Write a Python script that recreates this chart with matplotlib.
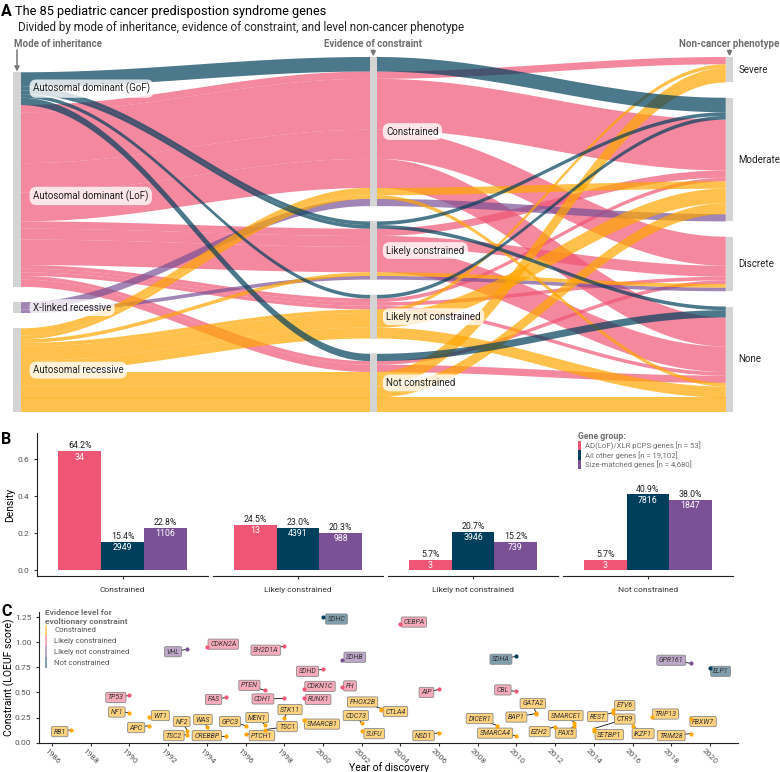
import numpy as np
import matplotlib
matplotlib.use("Agg")
import matplotlib.pyplot as plt
from matplotlib.patches import Rectangle, Patch, Polygon
from matplotlib import colors as mcolors

plt.rcParams['font.family'] = ['Roboto', 'DejaVu Sans']

W, H = 780, 772
NAVY, PURPLE, PINK, ORANGE = "#003f5c", "#7a5195", "#ef5675", "#ffa600"
GREY_TXT = "#6e6e6e"

# ---------------- panel A data (alluvium: mode -> constraint -> phenotype) ----------------
MODES = ["Autosomal dominant (GoF)", "Autosomal dominant (LoF)", "X-linked recessive", "Autosomal recessive"]
CONSTR = ["Constrained", "Likely constrained", "Likely not constrained", "Not constrained"]
PHENO = ["Severe", "Moderate", "Discrete", "None"]

flow_mode = ["Autosomal dominant (GoF)"] * 5 + ["Autosomal dominant (LoF)"] * 12 + \
            ["X-linked recessive"] * 2 + ["Autosomal recessive"] * 9
flow_constr = ["Constrained", "Likely constrained", "Likely constrained", "Likely not constrained", "Not constrained",
               "Constrained", "Constrained", "Constrained", "Constrained",
               "Likely constrained", "Likely constrained", "Likely constrained",
               "Likely not constrained", "Likely not constrained", "Likely not constrained",
               "Not constrained", "Not constrained",
               "Constrained", "Likely constrained",
               "Constrained", "Constrained", "Likely constrained",
               "Likely not constrained", "Likely not constrained", "Likely not constrained",
               "Not constrained", "Not constrained", "Not constrained"]
flow_pheno = ["Moderate", "Moderate", "None", "Moderate", "None",
              "Severe", "Moderate", "Discrete", "None",
              "Moderate", "Discrete", "None",
              "Moderate", "Discrete", "None",
              "Discrete", "None",
              "Moderate", "Discrete",
              "Moderate", "None", "Discrete",
              "Severe", "Moderate", "None",
              "Severe", "Moderate", "None"]
flow_n = [4, 1, 1, 1, 2,
          2, 14, 8, 8,
          2, 3, 7,
          1, 1, 1,
          1, 2,
          2, 1,
          2, 1, 1,
          1, 4, 3,
          4, 3, 4]

# ---------------- panel B data ----------------
groups = ["Constrained", "Likely constrained", "Likely not constrained", "Not constrained"]
pcps_dens = [0.642, 0.245, 0.057, 0.057]
other_dens = [0.154, 0.230, 0.207, 0.409]
size_dens = [0.228, 0.203, 0.152, 0.380]
pcps_n = [34, 13, 3, 3]
other_n = [2949, 4391, 3946, 7816]
size_n = [1106, 988, 739, 1847]
series_labels = ["AD(LoF)/XLR pCPS genes [n = 53]", "All other genes [n = 19,102]",
                 "Size-matched genes [n = 4,680]"]

# ---------------- panel C data ----------------
genes = ["RB1", "TP53", "NF1", "APC", "WT1", "NF2", "TSC2", "VHL", "CDKN2A", "FAS", "WAS", "CREBBP",
         "GPC3", "PTCH1", "MEN1", "PTEN", "CDH1", "SH2D1A", "TSC1", "STK11", "SMARCB1", "SDHC", "SDHD",
         "CDKN1C", "RUNX1", "SDHB", "FH", "PHOX2B", "CTLA4", "CDC73", "SUFU", "CEBPA", "AIP", "NSD1",
         "DICER1", "SMARCA4", "SDHA", "CBL", "GATA2", "BAP1", "EZH2", "SMARCE1", "PAX5", "REST", "ETV6",
         "CTR9", "SETBP1", "IKZF1", "TRIP13", "TRIM28", "FBXW7", "GPR161", "ELP1"]
year = [1987, 1990, 1990, 1991, 1991, 1993, 1993, 1993, 1994, 1995, 1994, 1995,
        1996, 1996, 1997, 1997, 1998, 1998, 1997, 1998, 1999, 2000, 2000,
        1999, 1999, 2001, 2001, 2003, 2003, 2002, 2002, 2004, 2006, 2006,
        2009, 2010, 2010, 2010, 2011, 2011, 2012, 2013, 2013, 2015, 2015,
        2014, 2014, 2016, 2017, 2019, 2019, 2019, 2020]
loeuf = [0.13, 0.47, 0.30, 0.17, 0.255, 0.12, 0.08, 0.93, 0.95, 0.45, 0.16, 0.07,
         0.17, 0.09, 0.18, 0.52, 0.44, 0.96, 0.13, 0.25, 0.23, 1.25, 0.73,
         0.53, 0.44, 0.82, 0.55, 0.34, 0.33, 0.195, 0.12, 1.18, 0.53, 0.10,
         0.17, 0.07, 0.86, 0.51, 0.30, 0.29, 0.16, 0.20, 0.17, 0.30, 0.33,
         0.14, 0.12, 0.17, 0.26, 0.09, 0.24, 0.79, 0.74]
level = ["C", "LC", "C", "C", "C", "C", "C", "LNC", "LC", "LC", "C", "C",
         "C", "C", "C", "LC", "LC", "LC", "C", "C", "C", "NC", "LC",
         "LC", "LC", "LNC", "LC", "C", "C", "C", "C", "LC", "LC", "C",
         "C", "C", "NC", "LC", "C", "C", "C", "C", "C", "C", "C",
         "C", "C", "C", "C", "C", "C", "LNC", "NC"]
# repelled label placement (year, LOEUF)
label_x = [1986.4, 1989.3, 1989.35, 1990.35, 1991.6, 1992.7, 1992.3, 1992.25, 1994.85, 1994.35, 1993.8, 1994.0,
           1995.2, 1996.85, 1996.6, 1996.2, 1996.9, 1997.05, 1998.15, 1998.3, 1999.95, 2000.7, 1999.2,
           1999.85, 1999.75, 2001.65, 2001.4, 2002.05, 2003.75, 2001.7, 2002.65, 2004.7, 2005.35, 2005.2,
           2008.1, 2008.9, 2009.2, 2009.3, 2010.85, 2010.0, 2011.2, 2012.55, 2012.55, 2014.2, 2015.6,
           2015.6, 2014.8, 2016.55, 2017.7, 2018.0, 2019.65, 2018.0, 2020.55]
label_y = [0.11, 0.45, 0.305, 0.15, 0.27, 0.21, 0.07, 0.905, 0.98, 0.43, 0.23, 0.07,
           0.21, 0.07, 0.25, 0.57, 0.435, 0.92, 0.16, 0.33, 0.185, 1.23, 0.71,
           0.56, 0.43, 0.85, 0.565, 0.405, 0.31, 0.27, 0.09, 1.2, 0.50, 0.07,
           0.24, 0.095, 0.83, 0.525, 0.39, 0.255, 0.11, 0.27, 0.095, 0.26, 0.37,
           0.235, 0.08, 0.09, 0.285, 0.07, 0.21, 0.82, 0.71]
level_names = {"C": "Constrained", "LC": "Likely constrained",
               "LNC": "Likely not constrained", "NC": "Not constrained"}
level_col = {"C": ORANGE, "LC": PINK, "LNC": PURPLE, "NC": NAVY}


def light(c, a=0.5):
    r = np.array(mcolors.to_rgb(c))
    return tuple(a * r + (1 - a))


fig = plt.figure(figsize=(W / 100, H / 100), dpi=100)


def px_axes(l, t, r, b):
    return fig.add_axes([l / W, 1 - b / H, (r - l) / W, (b - t) / H])


fig.text(1 / W, 1 - 12 / H, "A", fontsize=11.5, fontweight="bold", va="center")
fig.text(1 / W, 1 - 440 / H, "B", fontsize=11.5, fontweight="bold", va="center")
fig.text(1 / W, 1 - 611 / H, "C", fontsize=11.5, fontweight="bold", va="center")
fig.text(15 / W, 1 - 11 / H, "The 85 pediatric cancer predispostion syndrome genes", fontsize=9.2, va="center")
fig.text(18 / W, 1 - 28 / H,
         "Divided by mode of inheritance, evidence of constraint, and level non-cancer phenotype",
         fontsize=8.4, va="center", color="#222")

# ================= Panel A =================
axA = px_axes(0, 57, 780, 412)
PXX = 356.25
GAP = 4.2
axA.set_xlim(1 - 17 / PXX, 1 + 763 / PXX)
axA.set_ylim(0, 85 + 3 * GAP)
axA.axis("off")
BW = 7.5 / PXX
nflow = len(flow_n)
mode_col = {MODES[0]: NAVY, MODES[1]: PINK, MODES[2]: PURPLE, MODES[3]: ORANGE}
mid_mode_order = [MODES[0], MODES[1], MODES[3], MODES[2]]


def strata(levels, key, gaps):
    tot = {l: sum(n for k, n in zip(key, flow_n) if k == l) for l in levels}
    pos, y = {}, 0.0
    for i in range(len(levels) - 1, -1, -1):
        pos[levels[i]] = (y, y + tot[levels[i]])
        y += tot[levels[i]]
        if i > 0:
            y += gaps[i - 1]
    return pos


def lodes(pos, key, order):
    out = {}
    for lvl, (b, t) in pos.items():
        idx = sorted([i for i in range(nflow) if key[i] == lvl], key=order)
        y = t
        for i in idx:
            out[i] = (y - flow_n[i], y)
            y -= flow_n[i]
    return out


posL = strata(MODES, flow_mode, [0, GAP, GAP])
posM = strata(CONSTR, flow_constr, [GAP, GAP, GAP])
posR = strata(PHENO, flow_pheno, [GAP, GAP, GAP])
lodL = lodes(posL, flow_mode, lambda i: (CONSTR.index(flow_constr[i]), PHENO.index(flow_pheno[i])))
lodM = lodes(posM, flow_constr, lambda i: (mid_mode_order.index(flow_mode[i]), PHENO.index(flow_pheno[i])))
lodR = lodes(posR, flow_pheno, lambda i: (mid_mode_order.index(flow_mode[i]), CONSTR.index(flow_constr[i])))


def curve(x0, x1, y0, y1, n=60):
    t = np.linspace(0, 1, n)
    s = (1 - np.cos(np.pi * t)) / 2
    return x0 + (x1 - x0) * t, y0 + (y1 - y0) * s


draw_order = [MODES[1], MODES[2], MODES[3], MODES[0]]
for m in draw_order:
    for i in range(nflow):
        if flow_mode[i] != m:
            continue
        (b1, t1), (b2, t2), (b3, t3) = lodL[i], lodM[i], lodR[i]
        xa, ya = curve(1 + BW / 2, 2 - BW / 2, t1, t2)
        xb, yb = curve(2 + BW / 2, 3 - BW / 2, t2, t3)
        xc, yc = curve(2 + BW / 2, 3 - BW / 2, b2, b3)
        xd, yd = curve(1 + BW / 2, 2 - BW / 2, b1, b2)
        xs = np.concatenate([xa, xb, xc[::-1], xd[::-1]])
        ys = np.concatenate([ya, yb, yc[::-1], yd[::-1]])
        axA.add_patch(Polygon(np.column_stack([xs, ys]), closed=True, fc=mode_col[m],
                              alpha=0.7, ec="none", zorder=1))

for xi, pos in ((1, posL), (2, posM), (3, posR)):
    for lvl, (b, t) in pos.items():
        axA.add_patch(Rectangle((xi - BW / 2, b), BW, t - b, fc="#d4d4d4", ec="none", zorder=3))

lab_box = dict(boxstyle="round,pad=0.35,rounding_size=0.7", fc=(1, 1, 1, 0.78), ec="none")
for lvl, (b, t) in posL.items():
    axA.text(1 + 16 / PXX, (b + t) / 2, lvl, fontsize=7, va="center", ha="left",
             color="#222", bbox=lab_box, zorder=5)
for lvl, (b, t) in posM.items():
    axA.text(2 + 13 / PXX, (b + t) / 2, lvl, fontsize=7, va="center", ha="left",
             color="#222", bbox=lab_box, zorder=5)
for lvl, (b, t) in posR.items():
    axA.text(3 + 9 / PXX, (b + t) / 2, lvl, fontsize=7, va="center", ha="left", color="#222", zorder=5)

ytitle = 368 / 3.637
ytail = 362 / 3.637
for xi, name, ha, pos in ((1, "Mode of inheritance", "left", posL),
                          (2, "Evidence of constraint", "center", posM),
                          (3, "Non-cancer phenotype", "center", posR)):
    tx = xi - 3 / PXX if ha == "left" else xi
    axA.text(tx, ytitle, name, fontsize=7, fontweight="bold", color=GREY_TXT, ha=ha,
             va="center", clip_on=False)
    top = max(t for b, t in pos.values())
    axA.annotate("", xy=(xi, top + 0.2), xytext=(xi, ytail), annotation_clip=False,
                 arrowprops=dict(arrowstyle="-|>", color="#777", lw=1.1, mutation_scale=7,
                                 shrinkA=0, shrinkB=0))

# ================= Panel B =================
facets = [(37, 208), (213, 383), (388, 558), (563, 733)]
bar_cols = [PINK, NAVY, PURPLE]
for k, (l, r) in enumerate(facets):
    ax = px_axes(l, 433, r, 576)
    ax.set_xlim(0.4, 1.6)
    ax.set_ylim(-0.03, 0.74)
    vals = [pcps_dens[k], other_dens[k], size_dens[k]]
    ns = [pcps_n[k], other_n[k], size_n[k]]
    for j, (v, n, c) in enumerate(zip(vals, ns, bar_cols)):
        xj = 0.7 + 0.3 * j
        ax.bar(xj, v, width=0.3, color=c, edgecolor="none")
        ax.text(xj, v + 0.004, f"{v * 100:.1f}%", ha="center", va="bottom", fontsize=6.3, color="#222")
        ax.text(xj, v - 0.007, f"{n}", ha="center", va="top", fontsize=6.3, color="white")
    for s in ("top", "right"):
        ax.spines[s].set_visible(False)
    ax.spines["bottom"].set_color("#222")
    ax.spines["bottom"].set_linewidth(0.8)
    ax.set_xticks([1.0])
    ax.set_xticklabels([groups[k]], fontsize=6, color="#333")
    ax.tick_params(axis="x", length=2, color="#333", pad=6)
    if k == 0:
        ax.spines["left"].set_color("#222")
        ax.spines["left"].set_linewidth(0.8)
        ax.set_yticks([0, 0.2, 0.4, 0.6])
        ax.set_yticklabels(["0.0", "0.2", "0.4", "0.6"], fontsize=6, color="#555")
        ax.tick_params(axis="y", length=2, color="#333")
        ax.set_ylabel("Density", fontsize=7.5)
        ax.yaxis.set_label_coords(-0.125, 0.5)
    else:
        ax.spines["left"].set_visible(False)
        ax.set_yticks([])

legB = fig.legend(handles=[Patch(fc=c, ec="none") for c in bar_cols], labels=series_labels,
                  loc="upper left", bbox_to_anchor=(578 / W, 1 - 432 / H), frameon=False,
                  fontsize=5.6, title="Gene group:", title_fontproperties={"weight": "bold", "size": 6.3},
                  handlelength=0.4, handleheight=1.5, labelspacing=0, handletextpad=0.5,
                  borderaxespad=0, borderpad=0)
legB._legend_box.align = "left"
legB.get_title().set_color(GREY_TXT)
for t in legB.get_texts():
    t.set_color(GREY_TXT)

# ================= Panel C =================
axC = px_axes(39, 612, 738, 743)
axC.set_xlim(1986 - 13 / 19.35, 1986 + 699 / 19.35 - 13 / 19.35)
axC.set_ylim(-0.003, 1.30)
for s in ("top", "right"):
    axC.spines[s].set_visible(False)
for s in ("left", "bottom"):
    axC.spines[s].set_color("#222")
    axC.spines[s].set_linewidth(0.8)
axC.set_yticks([0, 0.25, 0.5, 0.75, 1.0, 1.25])
axC.set_yticklabels(["0.00", "0.25", "0.50", "0.75", "1.00", "1.25"], fontsize=6, color="#555")
xt = list(range(1986, 2021, 2))
axC.set_xticks(xt)
axC.set_xticklabels([str(v) for v in xt], rotation=-45, ha="center", va="top", fontsize=6, color="#555")
axC.tick_params(length=2, color="#333")
axC.tick_params(axis="x", pad=1.5)
axC.set_ylabel("Constraint (LOEUF score)", fontsize=7.5)
axC.yaxis.set_label_coords(-0.034, 0.5)
axC.set_xlabel("Year of discovery", fontsize=7.5, va="center")
axC.xaxis.set_label_coords(0.5, -0.19)

for g, x, y, lv, lx, ly in zip(genes, year, loeuf, level, label_x, label_y):
    axC.plot([x, lx], [y, ly], color="#111", lw=0.6, zorder=2)
    axC.text(lx, ly, g, fontsize=5, style="italic", color="#333", ha="center", va="center", zorder=3,
             bbox=dict(boxstyle="round,pad=0.3,rounding_size=0.2", fc=light(level_col[lv]),
                       ec="#8a8a8a", lw=0.6))
    axC.scatter([x], [y], s=9, color=level_col[lv], zorder=4, linewidths=0)

legC = axC.legend(handles=[Patch(fc=light(level_col[k]), ec="none") for k in ["C", "LC", "LNC", "NC"]],
                  labels=[level_names[k] for k in ["C", "LC", "LNC", "NC"]],
                  loc="upper left", bbox_to_anchor=(0.008, 1.02), frameon=False, fontsize=5.6,
                  title="Evidence level for\nevoltionary constraint",
                  title_fontproperties={"weight": "bold", "size": 6},
                  handlelength=0.35, handleheight=1.75, labelspacing=0, handletextpad=0.9,
                  borderaxespad=0, borderpad=0)
legC._legend_box.align = "left"
legC.get_title().set_color(GREY_TXT)
for t in legC.get_texts():
    t.set_color("#555")

fig.savefig("out.png", dpi=100)
